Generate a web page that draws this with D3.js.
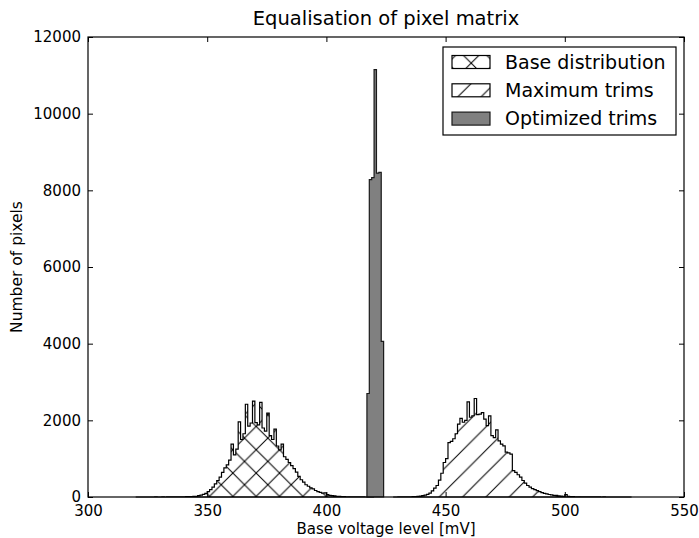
<!DOCTYPE html>
<html>
<head>
<meta charset="utf-8">
<script src="https://cdn.jsdelivr.net/npm/d3@7"></script>
<style>
  body { margin: 0; background: #fff; }
  svg { font-family: "DejaVu Sans", sans-serif; }
</style>
</head>
<body>
<div id="chart-area"></div>
<script>
// histogram data, 1 mV bins, first bin edge given by *Start
var baseStart = 320;
var baseCounts = [
    0, 0, 0, 0, 0, 0, 0, 0, 1, 0,
    0, 1, 0, 1, 2, 1, 2, 3, 4, 5,
    6, 8, 10, 13, 17, 20, 35, 50, 70, 95,
    140, 190, 260, 340, 430, 520, 640, 760, 840, 960,
    1380, 1100, 1250, 1960, 1500, 1650, 2420, 1850, 1930, 2500,
    1940, 1880, 2470, 1800, 1720, 2190, 1600, 1500, 1770, 1330,
    1230, 1380, 1050, 980, 900, 820, 740, 650, 540, 450,
    390, 320, 280, 240, 210, 170, 140, 120, 100, 110,
    60, 45, 35, 28, 20, 15, 12, 8, 6, 4,
    3, 2, 2, 1, 1, 1, 0, 0, 0, 0
];

var maxStart = 428;
var maxCounts = [
    0, 0, 1, 1, 2, 3, 5, 6,
    8, 12, 18, 25, 35, 50, 70, 100, 160, 230,
    300, 440, 620, 900, 1000, 1420, 1450, 1520, 1650, 1900,
    2050, 1950, 2000, 2480, 2080, 2120, 2570, 2150, 2160, 2200,
    2030, 1860, 2115, 1600, 1550, 1750, 1465, 1380, 1335, 1170,
    1150, 1120, 690, 640, 580, 520, 430, 360, 300, 260,
    220, 190, 165, 140, 115, 95, 80, 65, 55, 45,
    40, 30, 25, 20, 60, 15, 10, 8, 6, 5,
    4, 3, 3, 2,
    2, 1, 1, 1, 1, 0, 1, 0, 0, 0, 0, 0, 0, 0, 0, 0, 0, 0
];

var optStart = 417;
var optCounts = [2700, 8280, 8330, 11150, 8450, 8470, 4060];

var xTicks = [300, 350, 400, 450, 500, 550];
var yTicks = [0, 2000, 4000, 6000, 8000, 10000, 12000];
var legendLabels = ['Base distribution', 'Maximum trims', 'Optimized trims'];

var margin = { top: 37, right: 15, bottom: 41, left: 88 };
var width = 699 - margin.left - margin.right;
var height = 538 - margin.top - margin.bottom;

var svg = d3.select('#chart-area')
    .append('svg')
    .attr('width', width + margin.left + margin.right)
    .attr('height', height + margin.top + margin.bottom);

// hatch patterns, period and phase measured on the page
var hatchStep = 23.33;
var defs = svg.append('defs');

function hatch(id, slash, back, tx, ty) {
    var p = defs.append('pattern')
        .attr('id', id)
        .attr('patternUnits', 'userSpaceOnUse')
        .attr('width', hatchStep)
        .attr('height', hatchStep)
        .attr('patternTransform', 'translate(' + (tx - margin.left) + ',' + (ty - margin.top) + ')');
    p.append('rect').attr('width', hatchStep).attr('height', hatchStep).attr('fill', '#fff');
    var s = hatchStep;
    var segs = [];
    if (slash) segs.push([-1, s + 1, s + 1, -1], [-1, 1, 1, -1], [s - 1, s + 1, s + 1, s - 1]);
    if (back) segs.push([-1, -1, s + 1, s + 1], [s - 1, -1, s + 1, 1], [-1, s - 1, 1, s + 1]);
    segs.forEach(function (d) {
        p.append('line')
            .attr('x1', d[0]).attr('y1', d[1])
            .attr('x2', d[2]).attr('y2', d[3])
            .attr('stroke', '#000')
            .attr('stroke-width', 1);
    });
}
hatch('hatch-x', true, true, 11.2, -5.2);
hatch('hatch-slash', true, false, 3, 0);

var g = svg.append('g')
    .attr('transform', 'translate(' + margin.left + ',' + margin.top + ')');

var x = d3.scaleLinear().domain([300, 550]).range([0, width]);
var y = d3.scaleLinear().domain([0, 12000]).range([height, 0]);

function stepPath(start, counts) {
    var pts = [[x(start), y(0)]];
    counts.forEach(function (c, i) {
        pts.push([x(start + i), y(c)]);
        pts.push([x(start + i + 1), y(c)]);
    });
    pts.push([x(start + counts.length), y(0)]);
    return d3.line()(pts) + 'Z';
}

g.append('path')
    .attr('d', stepPath(baseStart, baseCounts))
    .attr('fill', 'url(#hatch-x)')
    .attr('stroke', '#000')
    .attr('stroke-width', 1.2);

g.append('path')
    .attr('d', stepPath(maxStart, maxCounts))
    .attr('fill', 'url(#hatch-slash)')
    .attr('stroke', '#000')
    .attr('stroke-width', 1.2);

g.append('path')
    .attr('d', stepPath(optStart, optCounts))
    .attr('fill', '#808080')
    .attr('stroke', '#1a1a1a')
    .attr('stroke-width', 1.2);

// axes, ticks pointing inward on all four sides
var xAxis = g.append('g')
    .attr('transform', 'translate(0,' + height + ')')
    .call(d3.axisBottom(x).tickValues(xTicks).tickSizeInner(-5).tickSizeOuter(0).tickPadding(8).tickFormat(d3.format('d')));
var xTop = g.append('g')
    .call(d3.axisTop(x).tickValues(xTicks).tickSizeInner(-5).tickSizeOuter(0).tickFormat(''));
var yAxis = g.append('g')
    .call(d3.axisLeft(y).tickValues(yTicks).tickSizeInner(-5).tickSizeOuter(0).tickPadding(7).tickFormat(d3.format('d')));
var yRight = g.append('g')
    .attr('transform', 'translate(' + width + ',0)')
    .call(d3.axisRight(y).tickValues(yTicks).tickSizeInner(-5).tickSizeOuter(0).tickFormat(''));

[xAxis, xTop, yAxis, yRight].forEach(function (a) {
    a.select('.domain').remove();
    a.selectAll('line').attr('stroke', '#000').attr('stroke-width', 1);
    a.selectAll('text')
        .attr('fill', '#000')
        .style('font-family', '"DejaVu Sans", sans-serif')
        .style('font-size', '15px');
});

g.append('rect')
    .attr('width', width)
    .attr('height', height)
    .attr('fill', 'none')
    .attr('stroke', '#000')
    .attr('stroke-width', 1.2);

g.append('text')
    .attr('x', width / 2)
    .attr('y', -12)
    .attr('text-anchor', 'middle')
    .style('font-size', '19.5px')
    .text('Equalisation of pixel matrix');

g.append('text')
    .attr('x', width / 2)
    .attr('y', height + 37)
    .attr('text-anchor', 'middle')
    .style('font-size', '15px')
    .text('Base voltage level [mV]');

g.append('text')
    .attr('transform', 'translate(' + (-66) + ',' + (height / 2) + ') rotate(-90)')
    .attr('text-anchor', 'middle')
    .style('font-size', '15.5px')
    .text('Number of pixels');

// legend
var legend = g.append('g')
    .attr('transform', 'translate(' + (443 - margin.left) + ',' + (47 - margin.top) + ')');

legend.append('rect')
    .attr('width', 233)
    .attr('height', 88)
    .attr('fill', '#fff')
    .attr('stroke', '#000')
    .attr('stroke-width', 1.2);

var legendFills = ['url(#hatch-x)', 'url(#hatch-slash)', '#808080'];

legendLabels.forEach(function (label, i) {
    var cy = 15 + i * 28.3;
    legend.append('rect')
        .attr('x', 9)
        .attr('y', cy - 6.5)
        .attr('width', 38)
        .attr('height', 13)
        .attr('fill', legendFills[i])
        .attr('stroke', i === 2 ? '#1a1a1a' : '#000')
        .attr('stroke-width', 1.2);
    legend.append('text')
        .attr('x', 62)
        .attr('y', cy)
        .attr('dy', '0.35em')
        .style('font-size', '19px')
        .text(label);
});
</script>
</body>
</html>
